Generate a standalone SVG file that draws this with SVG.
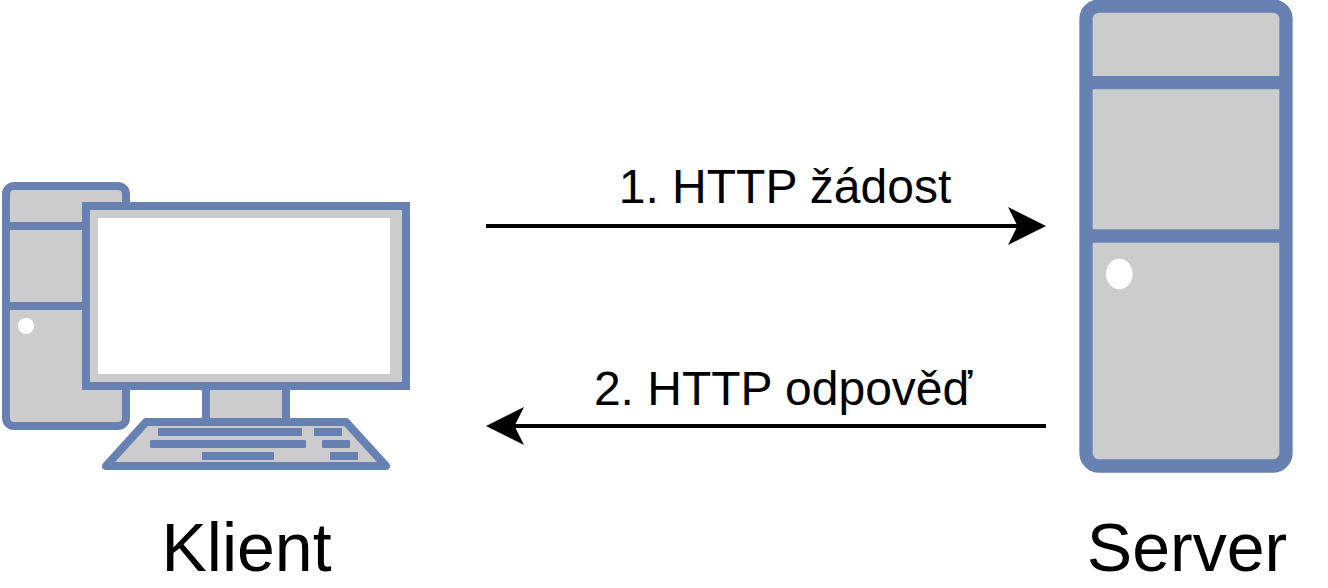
<svg xmlns="http://www.w3.org/2000/svg" width="1328" height="588" viewBox="0 0 1328 588">
<style>
.s{fill:#ccc;stroke:#6881b3;stroke-width:8;stroke-linejoin:round}
.m{fill:#ccc;stroke:#6881b3;stroke-width:8;stroke-linejoin:miter}
.b{fill:none;stroke:#6881b3;stroke-width:8}
.srv{fill:#ccc;stroke:#6881b3;stroke-width:13.33}
.k{fill:#6881b3;stroke:none}
.w{fill:#fff;stroke:none}
.c{fill:none;stroke:#000;stroke-width:4}
.t{font-family:"Liberation Sans",Arial,sans-serif;fill:#000;text-anchor:middle}
.l{font-size:48px}
.n{font-size:68px}
</style>
<defs>
<marker id="a" markerUnits="userSpaceOnUse" markerWidth="40" markerHeight="40" refX="20" refY="20" orient="auto"><path d="M0 1L38 20L0 39L9.500 20Z" fill="#000"/></marker>
</defs>
<g id="client">
<rect class="s" x="6" y="186" width="120" height="240" rx="8"/>
<path class="b" d="M6 226H126M6 306H126"/>
<circle class="w" cx="26" cy="326" r="8"/>
<rect class="m" x="206" y="386" width="80" height="36"/>
<rect class="m" x="86" y="206" width="320" height="180"/>
<rect class="w" x="98" y="218" width="292" height="156"/>
<path class="s" d="M146 422H346L386 466H106Z"/>
<g>
<rect class="k" x="158" y="428" width="144" height="8" rx="1"/>
<rect class="k" x="314" y="428" width="28" height="8" rx="1"/>
<rect class="k" x="150" y="440" width="156" height="8" rx="1"/>
<rect class="k" x="322" y="440" width="28" height="8" rx="1"/>
<rect class="k" x="202" y="452" width="72" height="8" rx="1"/>
<rect class="k" x="330" y="452" width="28" height="8" rx="1"/>
</g>
<text class="t n" x="246.500" y="571">Klient</text>
</g>
<g id="server">
<rect class="srv" x="1086" y="6" width="200" height="460" rx="13"/>
<path class="srv" d="M1086 82.700H1286M1086 236H1286"/>
<ellipse class="w" cx="1119.300" cy="274" rx="13.300" ry="15.300"/>
<text class="t n" x="1187" y="571">Server</text>
</g>
<g id="connectors">
<path class="c" d="M486 226H1028" marker-end="url(#a)"/>
<path class="c" d="M1046 426H504" marker-end="url(#a)"/>
</g>
<g id="labels">
<text class="t l" x="785" y="203">1. HTTP žádost</text>
<text class="t l" x="783" y="404.500">2. HTTP odpověď</text>
</g>
</svg>
